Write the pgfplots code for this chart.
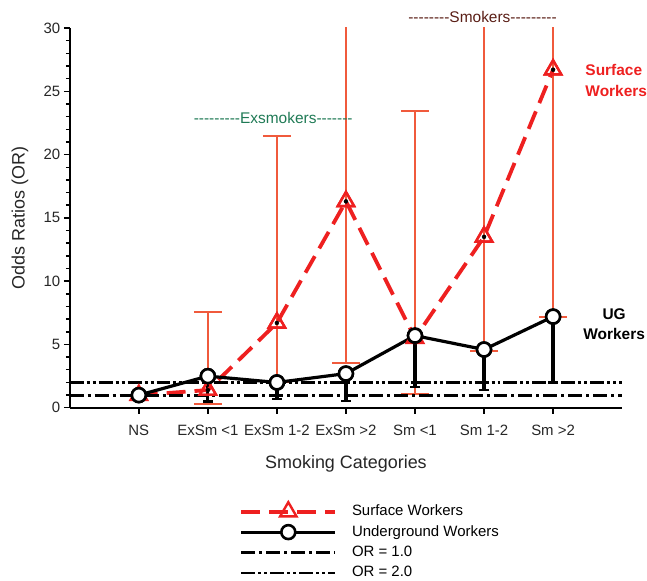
\documentclass[border=0pt]{standalone}
\usepackage{fontspec}
\setmainfont{Liberation Sans}
\usepackage{pgfplots}
\pgfplotsset{compat=1.18}
\definecolor{srf}{HTML}{EE2020}
\definecolor{srfbar}{HTML}{F05A3C}
\definecolor{exg}{HTML}{1F7A55}
\definecolor{smk}{HTML}{5A1E16}
\begin{document}
\begin{tikzpicture}
\path (-70pt,-173pt) rectangle (577pt,409pt);
\begin{axis}[
  scale only axis, width=554pt, height=381pt,
  xmin=-1, xmax=7, ymin=0, ymax=30,
  axis x line*=bottom, axis y line*=left,
  axis line style={line width=1.6pt, black},
  xtick={0,1,2,3,4,5,6},
  xticklabels={NS, ExSm <1, ExSm 1-2, ExSm >2, Sm <1, Sm 1-2, Sm >2},
  ytick={0,5,10,15,20,25,30}, minor y tick num=4,
  tick align=outside, major tick length=6pt, minor tick length=4pt,
  every tick/.style={black, line width=1.4pt},
  /pgf/number format/assume math mode=true,
  ticklabel style={font=\fontsize{15}{17}\selectfont, text=black!85},
  xticklabel style={yshift=-8pt},
  xlabel={Smoking Categories}, ylabel={Odds Ratios (OR)},
  label style={font=\fontsize{18}{21}\selectfont, text=black!85},
  xlabel style={at={(axis description cs:0.5,-0.147)}, anchor=center},
  ylabel style={at={(axis description cs:-0.090,0.5)}, anchor=center},
  legend image code/.code={\draw[mark repeat=2,mark phase=2,#1] plot coordinates {(0pt,0pt) (47pt,0pt) (94pt,0pt)};},
  legend style={at={(axis description cs:0.307,-0.248)}, anchor=north west,
    draw=none, fill=none, inner sep=0pt, row sep=6.5pt, column sep=15pt,
    font=\fontsize{15}{17}\selectfont,
    nodes={inner sep=0pt, text height=11pt, text depth=3pt}},
  legend cell align=left,
]
% red error bars
\addplot[only marks, mark=none, forget plot,
  error bars/.cd, y dir=both, y explicit,
  error bar style={color=srfbar, line width=2pt, solid},
  error mark options={rotate=90, mark size=14pt, line width=2pt, color=srfbar}]
  coordinates {
  (1,1.4)  += (0,6.2)  -= (0,1.1)
  (2,6.7)  += (0,14.8) -= (0,4.7)
  (3,16.3) += (0,28.7) -= (0,12.8)
  (4,5.5)  += (0,17.9) -= (0,4.4)
  (5,13.5) += (0,31.5) -= (0,9.0)
  (6,26.7) += (0,18.3) -= (0,19.5)
  };
% black error bars (lower)
\addplot[only marks, mark=none, forget plot,
  error bars/.cd, y dir=minus, y explicit,
  error bar style={color=black, line width=3.2pt, solid},
  error mark options={rotate=90, mark size=5pt, line width=2.4pt, color=black}]
  coordinates {
  (1,2.5) -= (0,2.0)
  (2,2.0) -= (0,1.3)
  (3,2.7) -= (0,2.15)
  (4,5.7) -= (0,4.05)
  (5,4.6) -= (0,3.2)
  (6,7.2) -= (0,5.2)
  };
\addplot[srf, line width=3.8pt, dash pattern=on 19pt off 9pt,
  mark=triangle, mark size=9.5pt, mark options={solid, fill=white, line width=2.4pt}]
  coordinates {(0,1.0) (1,1.4) (2,6.7) (3,16.3) (4,5.5) (5,13.5) (6,26.7)};
\addlegendentry{Surface Workers}
\addplot[black, line width=3.2pt,
  mark=*, mark size=7pt, mark options={fill=white, line width=2.6pt}]
  coordinates {(0,1.0) (1,2.5) (2,2.0) (3,2.7) (4,5.7) (5,4.6) (6,7.2)};
\addlegendentry{Underground Workers}
\addplot[black, line width=2.8pt, dash pattern=on 14pt off 4pt on 3pt off 4pt]
  coordinates {(-1,1) (7,1)};
\addlegendentry{OR = 1.0}
\addplot[black, line width=2.8pt, dash pattern=on 14pt off 3pt on 3pt off 3pt on 3pt off 3pt]
  coordinates {(-1,2) (7,2)};
\addlegendentry{OR = 2.0}
% redraw marks on top
\addplot[only marks, forget plot, srf, mark=triangle, mark size=9.5pt,
  mark options={solid, fill=white, line width=2.4pt}]
  coordinates {(1,1.4) (2,6.7) (3,16.3) (5,13.5) (6,26.7)};
\addplot[only marks, forget plot, black, mark=*, mark size=7pt,
  mark options={fill=white, line width=2.6pt}]
  coordinates {(0,1.0) (1,2.5) (2,2.0) (3,2.7) (4,5.7) (5,4.6) (6,7.2)};
\end{axis}
\node[exg, font=\fontsize{15.5}{18}\selectfont] at (204pt,291pt)
  {{-}{-}{-}{-}{-}{-}{-}{-}{-}Exsmokers{-}{-}{-}{-}{-}{-}{-}};
\node[smk, font=\fontsize{15.5}{18}\selectfont] at (414pt,392pt)
  {{-}{-}{-}{-}{-}{-}{-}{-}Smokers{-}{-}{-}{-}{-}{-}{-}{-}{-}};
\node[srf, font=\bfseries\fontsize{15.5}{21}\selectfont, align=left, anchor=west, inner sep=0pt]
  at (517pt,328pt) {Surface\\Workers};
\node[black, font=\bfseries\fontsize{15.5}{20}\selectfont, align=center, inner sep=0pt]
  at (546pt,84pt) {UG\\Workers};
\end{tikzpicture}
\end{document}
